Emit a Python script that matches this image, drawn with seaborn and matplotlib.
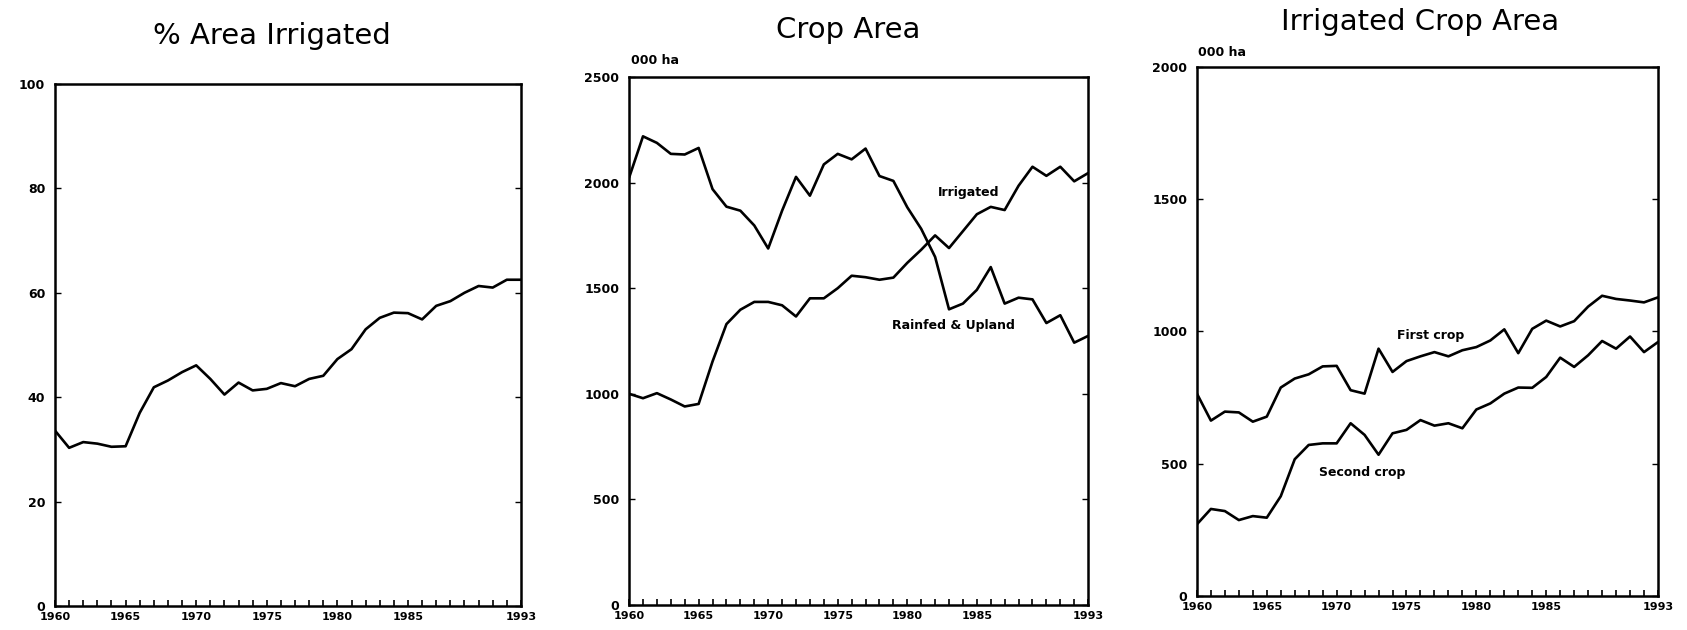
import numpy as np
import pandas as pd
import matplotlib
matplotlib.use("Agg")
import matplotlib.pyplot as plt
import seaborn as sns

years = list(range(1960, 1994))

pct_irrigated = [33.6, 30.3, 31.4, 31.1, 30.5, 30.6, 37.0, 41.9, 43.2, 44.8,
                 46.1, 43.5, 40.5, 42.8, 41.3, 41.6, 42.7, 42.1, 43.5, 44.1,
                 47.3, 49.2, 53.0, 55.2, 56.2, 56.1, 54.9, 57.5, 58.4, 60.0,
                 61.3, 61.0, 62.5, 62.5]

irrigated_area = [1000, 979, 1003, 973, 940, 952, 1153, 1330, 1398, 1435,
                  1435, 1419, 1366, 1452, 1452, 1500, 1559, 1552, 1540, 1550,
                  1620, 1682, 1750, 1690, 1770, 1850, 1885, 1870, 1985, 2075,
                  2032, 2075, 2006, 2045]

rainfed_area = [2023, 2219, 2188, 2136, 2133, 2164, 1969, 1886, 1867, 1797,
                1688, 1867, 2027, 1938, 2086, 2136, 2110, 2161, 2031, 2008,
                1883, 1781, 1648, 1400, 1427, 1492, 1600, 1427, 1455, 1447,
                1335, 1372, 1242, 1274]

first_crop = [765, 663, 697, 694, 659, 678, 788, 822, 838, 868,
              870, 778, 765, 935, 847, 888, 906, 922, 906, 929,
              941, 966, 1008, 918, 1010, 1041, 1019, 1039, 1094, 1135,
              1123, 1117, 1110, 1129]

second_crop = [271, 329, 321, 287, 302, 296, 377, 517, 571, 577,
               577, 653, 609, 534, 615, 628, 665, 644, 653, 634,
               705, 728, 765, 788, 787, 828, 901, 866, 910, 964,
               935, 981, 922, 960]

xtick_years = [1960, 1965, 1970, 1975, 1980, 1985, 1993]
titles = ["% Area Irrigated", "Crop Area", "Irrigated Crop Area"]

sns.set_style("white")
plt.rcParams['font.family'] = ['Liberation Sans', 'DejaVu Sans']
plt.rcParams['text.color'] = 'black'
plt.rcParams['xtick.color'] = 'black'
plt.rcParams['ytick.color'] = 'black'
plt.rcParams['xtick.labelcolor'] = 'black'
plt.rcParams['ytick.labelcolor'] = 'black'

fig = plt.figure(figsize=(16.87, 6.30), dpi=100)

positions = [
    [0.0326, 0.0381, 0.2762, 0.8286],
    [0.3729, 0.0397, 0.2721, 0.8381],
    [0.7095, 0.0540, 0.2733, 0.8397],
]
axes = [fig.add_axes(p) for p in positions]

df1 = pd.DataFrame({"year": years, "value": pct_irrigated})
df2 = pd.DataFrame({"year": years * 2,
                    "value": irrigated_area + rainfed_area,
                    "series": ["Irrigated"] * len(years) + ["Rainfed & Upland"] * len(years)})
df3 = pd.DataFrame({"year": years * 2,
                    "value": first_crop + second_crop,
                    "series": ["First crop"] * len(years) + ["Second crop"] * len(years)})

lw = 1.9
sns.lineplot(data=df1, x="year", y="value", ax=axes[0], color="black", linewidth=lw)
sns.lineplot(data=df2, x="year", y="value", units="series", estimator=None,
             ax=axes[1], color="black", linewidth=lw)
sns.lineplot(data=df3, x="year", y="value", units="series", estimator=None,
             ax=axes[2], color="black", linewidth=lw)

ylims = [(0, 100), (0, 2500), (0, 2000)]
yticks = [[0, 20, 40, 60, 80, 100], [0, 500, 1000, 1500, 2000, 2500], [0, 500, 1000, 1500, 2000]]

for ax, yl, yt in zip(axes, ylims, yticks):
    ax.set_xlim(1960, 1993)
    ax.set_ylim(*yl)
    ax.set_xlabel("")
    ax.set_ylabel("")
    ax.set_xticks(xtick_years)
    ax.set_xticklabels([str(y) for y in xtick_years], fontsize=8, fontweight="bold",
                       family=['DejaVu Sans'], color="black")
    ax.set_xticks(years, minor=True)
    ax.set_yticks(yt)
    ax.set_yticklabels([str(v) for v in yt], fontsize=9, fontweight="bold",
                       family=['DejaVu Sans'], color="black")
    ax.tick_params(axis="x", which="both", direction="in", length=4, width=1.2,
                   top=False, bottom=True, pad=4, color="black")
    ax.tick_params(axis="y", which="major", direction="in", length=4, width=1.0,
                   left=True, right=True, pad=7, color="black")
    for s in ax.spines.values():
        s.set_color("black")
        s.set_linewidth(1.8)
        s.set_visible(True)
    ax.grid(False)

# Series labels
lab = dict(fontsize=9, fontweight="bold", ha="center", va="center",
           family=['DejaVu Sans'], color="black")
axes[1].text(1984.4, 1952, "Irrigated", **lab)
axes[1].text(1983.3, 1322, "Rainfed & Upland", **lab)
axes[2].text(1976.7, 985, "First crop", **lab)
axes[2].text(1971.8, 465, "Second crop", **lab)

# Unit labels
fig.text(631 / 1687, 1 - 61 / 630, "000 ha", fontsize=9, fontweight="bold",
         ha="left", va="center", family=['DejaVu Sans'], color="black")
fig.text(1198 / 1687, 1 - 53 / 630, "000 ha", fontsize=9, fontweight="bold",
         ha="left", va="center", family=['DejaVu Sans'], color="black")

# Titles
title_pos = [(272, 36), (848, 30), (1420, 22)]
for t, (tx, ty) in zip(titles, title_pos):
    fig.text(tx / 1687, 1 - ty / 630, t, fontsize=21, ha="center", va="center",
             family=['DejaVu Sans'], color="black")

fig.savefig("out.png", dpi=100)
